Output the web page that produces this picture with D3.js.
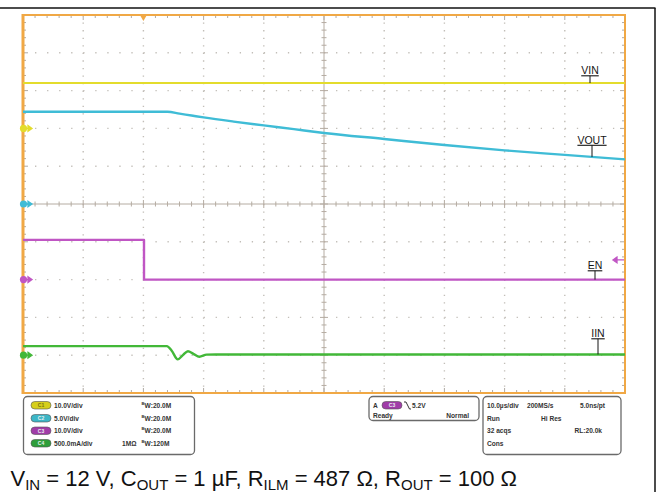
<!DOCTYPE html>
<html><head><meta charset="utf-8">
<script src="https://cdn.jsdelivr.net/npm/d3@7/dist/d3.min.js"></script>
<style>
html,body{margin:0;padding:0;background:#fff;}
svg{display:block;font-family:"Liberation Sans",Arial,sans-serif;}
</style></head>
<body>
<svg id="c" width="661" height="492"></svg>
<script>
// ---------- data ----------
// time in microseconds (10 µs/div, trigger at 0)
const timeDomain = [-20, 80];
const vinTime  = [-20, 0, 20, 40, 60, 80];
const vinVolts = [12.0, 12.0, 12.0, 12.0, 12.0, 12.0];
const voutTime  = [-20, 0, 4, 6, 8, 10, 15, 20, 25, 30, 40, 50, 60, 70, 80];
const voutVolts = [12.2, 12.2, 12.2, 11.95, 11.7, 11.45, 10.9, 10.4, 9.9, 9.4, 8.6, 7.8, 7.1, 6.5, 5.9];
const enTime  = [-20, 0.1, 0.1, 80];
const enVolts = [10.5, 10.5, 0, 0];
const iinTime = [-20, 0, 3.9, 4.7, 5.7, 6.6, 7.4, 8.3, 9.3, 10.5, 12, 20, 80];
const iinMilliamps = [120, 120, 120, 60, -55, 5, 52, 18, -20, 8, 10, 10, 10];
const triggerLevel = 5.2; // volts on C3
const channelNames = ["C1", "C2", "C3", "C4"];
const channelScales = ["10.0V/div", "5.0V/div", "10.0V/div", "500.0mA/div"];
const channelBw = ["20.0M", "20.0M", "20.0M", "120M"];
const traceLabels = ["VIN", "VOUT", "EN", "IIN"];
const timebaseRows = [["10.0µs/div", "200MS/s", "5.0ns/pt"], ["Run", "Hi Res", ""], ["32 acqs", "", "RL:20.0k"], ["Cons", "", ""]];

// ---------- layout ----------
const svg = d3.select("#c");
const X0 = 23, X1 = 625, Y0 = 15, Y1 = 393;
const x = d3.scaleLinear().domain(timeDomain).range([X0, X1]);
const yDiv = d3.scaleLinear().domain([-5, 5]).range([Y1, Y0]);
const perDiv = [10, 5, 10, 500];
const offsetDiv = [2, 0, -2, -4];
const colors = ["#e3dc2c", "#3fbcd6", "#c056c4", "#42b838"];
const ch = (i) => (v) => yDiv(v / perDiv[i] + offsetDiv[i]);
const minorX = (X1 - X0) / 50, minorY = (Y1 - Y0) / 50;

svg.append("rect").attr("width", 661).attr("height", 492).attr("fill", "#fff");
// outer black frame
svg.append("line").attr("x1", 0).attr("x2", 655.5).attr("y1", 8).attr("y2", 8).attr("stroke", "#111").attr("stroke-width", 1.5);
svg.append("line").attr("x1", 655).attr("x2", 655).attr("y1", 8).attr("y2", 492).attr("stroke", "#111").attr("stroke-width", 1.5);

// grid dots
const g = svg.append("g");
for (let i = -4; i <= 4; i++) {
  if (i === 0) continue;
  g.append("line").attr("x1", X0).attr("x2", X1).attr("y1", yDiv(i)).attr("y2", yDiv(i))
    .attr("stroke", "#c2beb8").attr("stroke-width", 1.4).attr("stroke-dasharray", `1.3 ${minorX - 1.3}`);
  const xx = X0 + (i + 5) * (X1 - X0) / 10;
  g.append("line").attr("x1", xx).attr("x2", xx).attr("y1", Y0).attr("y2", Y1)
    .attr("stroke", "#c2beb8").attr("stroke-width", 1.4).attr("stroke-dasharray", `1.3 ${minorY - 1.3}`);
}
// center axes
const cx = (X0 + X1) / 2, cy = (Y0 + Y1) / 2;
g.append("line").attr("x1", X0).attr("x2", X1).attr("y1", cy).attr("y2", cy).attr("stroke", "#b5aca2").attr("stroke-width", 1);
g.append("line").attr("x1", cx).attr("x2", cx).attr("y1", Y0).attr("y2", Y1).attr("stroke", "#b5aca2").attr("stroke-width", 1);
for (let k = 0; k <= 50; k++) {
  const major = k % 5 === 0;
  const xx = X0 + k * minorX, yy = Y0 + k * minorY;
  const l = major ? 4 : 2.5;
  g.append("line").attr("x1", xx).attr("x2", xx).attr("y1", cy - l).attr("y2", cy + l).attr("stroke", "#b5aca2");
  g.append("line").attr("x1", cx - l).attr("x2", cx + l).attr("y1", yy).attr("y2", yy).attr("stroke", "#b5aca2");
  // edge ticks
  const e = major ? 5 : 3;
  g.append("line").attr("x1", xx).attr("x2", xx).attr("y1", Y0).attr("y2", Y0 + e).attr("stroke", "#b0aaa4");
  g.append("line").attr("x1", xx).attr("x2", xx).attr("y1", Y1).attr("y2", Y1 - e).attr("stroke", "#b0aaa4");
  g.append("line").attr("x1", X0).attr("x2", X0 + e).attr("y1", yy).attr("y2", yy).attr("stroke", "#b0aaa4");
  g.append("line").attr("x1", X1).attr("x2", X1 - e).attr("y1", yy).attr("y2", yy).attr("stroke", "#b0aaa4");
}
// orange frame
const orange = "#f0a845";
svg.append("line").attr("x1", X0).attr("x2", X1 + 1).attr("y1", Y0).attr("y2", Y0).attr("stroke", orange).attr("stroke-width", 2);
svg.append("line").attr("x1", X0).attr("x2", X1 + 1).attr("y1", Y1).attr("y2", Y1).attr("stroke", orange).attr("stroke-width", 2);
svg.append("line").attr("x1", X1).attr("x2", X1).attr("y1", Y0).attr("y2", Y1).attr("stroke", orange).attr("stroke-width", 2);
svg.append("line").attr("x1", X0).attr("x2", X0).attr("y1", Y0 - 1).attr("y2", Y1 + 1).attr("stroke", orange).attr("stroke-width", 3);
// trigger time marker
svg.append("path").attr("d", `M${x(0) - 3.5},${Y0} L${x(0) + 3.5},${Y0} L${x(0)},${Y0 + 6} Z`).attr("fill", orange);

// traces
function trace(i, t, v, curve) {
  const line = d3.line().x((d, k) => x(t[k])).y((d) => ch(i)(d)).curve(curve);
  svg.append("path").attr("d", line(v)).attr("fill", "none").attr("stroke", colors[i])
    .attr("stroke-width", i === 0 ? 2 : 2.4).attr("stroke-linejoin", "round");
}
trace(0, vinTime, vinVolts, d3.curveLinear);
trace(1, voutTime, voutVolts, d3.curveMonotoneX);
trace(2, enTime, enVolts, d3.curveLinear);
trace(3, iinTime, iinMilliamps, d3.curveMonotoneX);

// ground markers at left
for (let i = 0; i < 4; i++) {
  const yy = ch(i)(0);
  svg.append("circle").attr("cx", X0 + 0.5).attr("cy", yy).attr("r", 3.6).attr("fill", colors[i]);
  svg.append("path").attr("d", `M${X0 + 2},${yy} L${X0 + 6},${yy} M${X0 + 5},${yy - 2.8} L${X0 + 9},${yy} L${X0 + 5},${yy + 2.8} Z`)
    .attr("stroke", colors[i]).attr("stroke-width", 1.3).attr("fill", colors[i]);
}
// trigger level marker (right)
{
  const yy = ch(2)(triggerLevel);
  svg.append("path").attr("d", `M${X1 - 1},${yy} L${X1 - 9},${yy} M${X1 - 8},${yy - 2.8} L${X1 - 12},${yy} L${X1 - 8},${yy + 2.8} Z`)
    .attr("stroke", colors[2]).attr("stroke-width", 1.3).attr("fill", colors[2]);
}

// trace labels
const labelPos = [[590, 74], [592, 143.5], [595, 269], [598, 337]];
const series = [[vinTime, vinVolts], [voutTime, voutVolts], [enTime.slice(2), enVolts.slice(2)], [iinTime.slice(9), iinMilliamps.slice(9)]];
traceLabels.forEach((lab, i) => {
  const [lx, ly] = labelPos[i];
  const t = svg.append("text").attr("x", lx).attr("y", ly).attr("text-anchor", "middle")
    .attr("font-size", 10.5).attr("fill", "#151515").text(lab);
  const w = t.node().getComputedTextLength();
  svg.append("line").attr("x1", lx - w / 2).attr("x2", lx + w / 2).attr("y1", ly + 1.8).attr("y2", ly + 1.8).attr("stroke", "#151515").attr("stroke-width", 1.1);
  const interp = d3.scaleLinear().domain(series[i][0]).range(series[i][1]);
  const ty = ch(i)(interp(x.invert(lx)));
  svg.append("line").attr("x1", lx).attr("x2", lx).attr("y1", ly + 1.8).attr("y2", ty).attr("stroke", "#151515").attr("stroke-width", 1);
});

// status boxes
const st = svg.append("g").attr("font-size", 6.6).attr("font-weight", "bold").attr("fill", "#333");
function box(bx, by, bw, bh) {
  st.append("rect").attr("x", bx).attr("y", by).attr("width", bw).attr("height", bh).attr("rx", 4)
    .attr("fill", "#fff").attr("stroke", "#6a6a6a").attr("stroke-width", 1.3);
}
const badgeFill = ["#d6cf1c", "#3cb6c6", "#a03ca8", "#2e9e3a"];
function badge(bx, by, i) {
  st.append("rect").attr("x", bx).attr("y", by).attr("width", 20).attr("height", 7.5).attr("rx", 3.75)
    .attr("fill", badgeFill[i]).attr("stroke", "#555").attr("stroke-width", 0.6);
  st.append("text").attr("x", bx + 10).attr("y", by + 5.7).attr("text-anchor", "middle").attr("font-size", 5)
    .attr("fill", i === 0 ? "#7a7410" : "#e8f0f0").text(channelNames[i]);
}
box(23.5, 396.5, 171, 58);
box(369, 396.5, 110, 24);
box(483, 396.5, 138, 58);
const rowsY = [407.5, 420.5, 433, 445.5];
channelNames.forEach((n, i) => {
  badge(31, rowsY[i] - 6, i);
  st.append("text").attr("x", 54).attr("y", rowsY[i]).text(channelScales[i]);
  st.append("text").attr("x", 141.5).attr("y", rowsY[i] - 2.6).attr("font-size", 4.2).text("B");
  st.append("text").attr("x", 144.6).attr("y", rowsY[i]).text("W:" + channelBw[i]);
  if (i === 3) st.append("text").attr("x", 122).attr("y", rowsY[i]).text("1MΩ");
});
st.append("text").attr("x", 373).attr("y", 407.5).text("A");
badge(382, 401.5, 2);
st.append("path").attr("d", "M404,402 L406,402 L409.5,409 L411,409").attr("fill", "none").attr("stroke", "#333").attr("stroke-width", 1);
st.append("text").attr("x", 412).attr("y", 407.5).text(triggerLevel.toFixed(1) + "V");
st.append("text").attr("x", 373).attr("y", 417.5).text("Ready");
st.append("text").attr("x", 469).attr("y", 417.5).attr("text-anchor", "end").text("Normal");
timebaseRows.forEach((row, r) => {
  if (row[0]) st.append("text").attr("x", 487).attr("y", rowsY[r]).text(row[0]);
  if (row[1]) st.append("text").attr("x", r === 1 ? 541 : 527).attr("y", rowsY[r]).text(row[1]);
  if (row[2]) st.append("text").attr("x", r === 2 ? 602 : 605).attr("y", rowsY[r]).attr("text-anchor", "end").text(row[2]);
});

// caption
const cap = svg.append("text").attr("x", 10.5).attr("y", 485.5).attr("font-size", 22).attr("fill", "#111");
const parts = [["V", "IN", " = 12 V, "], ["C", "OUT", " = 1 µF, "], ["R", "ILM", " = 487 Ω, "], ["R", "OUT", " = 100 Ω"]];
parts.forEach(([a, s, b]) => {
  cap.append("tspan").text(a);
  cap.append("tspan").attr("font-size", 15).attr("dy", 4).text(s);
  cap.append("tspan").attr("dy", -4).text(b);
});
</script>
</body></html>
